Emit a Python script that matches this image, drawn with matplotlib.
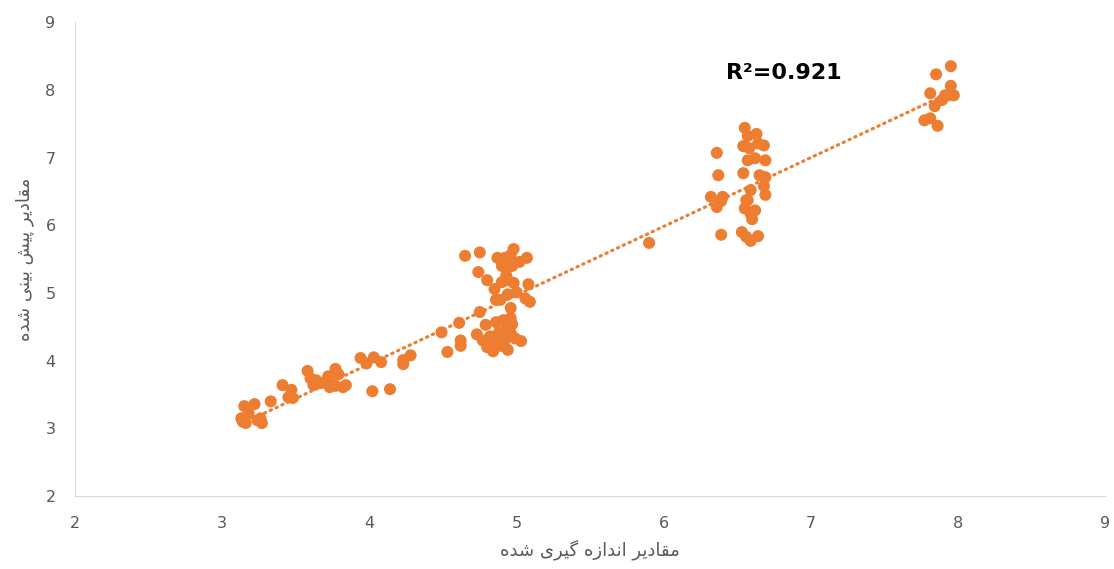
import numpy as np
import matplotlib.pyplot as plt

# داده‌ها: مقادیر اندازه گیری شده و پیش بینی شده
measured = [3.13, 3.15, 3.16, 3.18, 3.22, 3.24, 3.27, 3.26, 3.33, 3.14,
            3.41, 3.47, 3.48, 3.45,
            3.58, 3.60, 3.62, 3.64, 3.67, 3.72, 3.73, 3.77, 3.79, 3.82, 3.84, 3.77, 3.71,
            3.94, 3.98, 4.03, 4.08, 4.02, 4.14, 4.23, 4.23, 4.28,
            4.49, 4.53, 4.61, 4.62, 4.62, 4.65, 4.75, 4.73, 4.75, 4.74,
            4.87, 4.92, 4.96, 4.98, 4.90, 4.97, 5.02, 5.07, 4.80, 4.85, 4.90, 4.94, 4.98,
            5.00, 4.94, 4.86, 5.08, 5.06, 5.09, 4.89, 4.93, 4.96,
            4.79, 4.86, 4.91, 4.96, 4.97, 4.82, 4.88, 4.92, 4.96, 4.80, 4.84, 4.89, 4.94,
            4.99, 5.03, 4.86, 4.77, 4.92,
            5.90,
            6.36, 6.37, 6.39, 6.40, 6.32, 6.36, 6.39,
            6.55, 6.57, 6.63, 6.54, 6.58, 6.64, 6.68, 6.57, 6.62, 6.69, 6.54, 6.65, 6.69,
            6.68, 6.69, 6.59, 6.57, 6.55, 6.59, 6.62, 6.53, 6.56, 6.59, 6.64, 6.60, 6.56,
            7.85, 7.95, 7.81, 7.95, 7.93, 7.97, 7.89, 7.84, 7.77, 7.81, 7.86, 7.91]
predicted = [3.15, 3.33, 3.08, 3.22, 3.36, 3.12, 3.08, 3.15, 3.40, 3.10,
             3.64, 3.57, 3.45, 3.46,
             3.85, 3.74, 3.64, 3.71, 3.67, 3.77, 3.61, 3.88, 3.80, 3.61, 3.64, 3.63, 3.68,
             4.04, 3.96, 4.05, 3.98, 3.55, 3.58, 4.01, 3.95, 4.08,
             4.42, 4.13, 4.56, 4.30, 4.22, 5.55, 5.60, 4.39, 4.72, 5.31,
             5.52, 5.52, 5.56, 5.65, 5.40, 5.40, 5.46, 5.52, 5.19, 5.06, 5.16, 5.19, 5.15,
             5.01, 4.98, 4.90, 5.13, 4.92, 4.87, 4.90, 5.26, 4.78,
             4.53, 4.57, 4.60, 4.63, 4.54, 4.36, 4.42, 4.44, 4.41, 4.20, 4.14, 4.22, 4.16,
             4.33, 4.29, 4.27, 4.30, 4.30,
             5.74,
             7.07, 6.74, 6.36, 6.42, 6.42, 6.27, 5.86,
             7.44, 7.32, 7.35, 7.17, 7.14, 7.21, 7.18, 6.96, 6.99, 6.96, 6.77, 6.74, 6.71,
             6.58, 6.45, 6.52, 6.37, 6.25, 6.17, 6.22, 5.90, 5.83, 5.77, 5.84, 6.09, 6.37,
             8.23, 8.35, 7.95, 8.06, 7.92, 7.92, 7.85, 7.76, 7.55, 7.58, 7.47, 7.92]
r2_label = 'R²=0.921'
x_title = 'مقادیر اندازه گیری شده'
y_title = 'مقادیر پیش بینی شده'

# شکل‌دهی ساده حروف فارسی (matplotlib حروف را به هم نمی‌چسباند)
FORMS = {
    'ا': ('\uFE8D', '\uFE8E', None, None),
    'د': ('\uFEA9', '\uFEAA', None, None),
    'ر': ('\uFEAD', '\uFEAE', None, None),
    'ز': ('\uFEAF', '\uFEB0', None, None),
    'ب': ('\uFE8F', '\uFE90', '\uFE91', '\uFE92'),
    'پ': ('\uFB56', '\uFB57', '\uFB58', '\uFB59'),
    'ش': ('\uFEB5', '\uFEB6', '\uFEB7', '\uFEB8'),
    'ق': ('\uFED5', '\uFED6', '\uFED7', '\uFED8'),
    'م': ('\uFEE1', '\uFEE2', '\uFEE3', '\uFEE4'),
    'ن': ('\uFEE5', '\uFEE6', '\uFEE7', '\uFEE8'),
    'ه': ('\uFEE9', '\uFEEA', '\uFEEB', '\uFEEC'),
    'ی': ('\uFBFC', '\uFBFD', '\uFBFE', '\uFBFF'),
    'گ': ('\uFB92', '\uFB93', '\uFB94', '\uFB95'),
}


def shape_fa(text):
    out = []
    for i, ch in enumerate(text):
        if ch not in FORMS:
            out.append(ch)
            continue
        prev = text[i - 1] if i > 0 else ''
        nxt = text[i + 1] if i + 1 < len(text) else ''
        join_prev = prev in FORMS and FORMS[prev][2] is not None
        join_next = nxt in FORMS and FORMS[ch][2] is not None
        iso, fin, ini, med = FORMS[ch]
        if join_prev and join_next:
            out.append(med)
        elif join_prev:
            out.append(fin)
        elif join_next:
            out.append(ini)
        else:
            out.append(iso)
    return ''.join(reversed(out))


orange = '#ED7D31'
grey = '#595959'

fig = plt.figure(figsize=(11.14, 5.69), dpi=100)
ax = fig.add_axes([0.0673, 0.128, 0.925, 0.833])

x = np.array(measured)
y = np.array(predicted)
ax.scatter(x, y, s=75, color=orange, edgecolors='none', zorder=2)

# خط روند خطی
k, b = np.polyfit(x, y, 1)
xs = np.array([x.min(), x.max()])
ax.plot(xs, k * xs + b, color=orange, lw=2.3, linestyle=(0, (0.4, 1.6)),
        dash_capstyle='round', zorder=3)

ax.text(6.42, 8.25, r2_label, fontsize=16, fontweight='bold', color='black',
        ha='left', va='center', family='DejaVu Sans')

ax.set_xlim(2, 9)
ax.set_ylim(2, 9)
ax.set_xticks(range(2, 10))
ax.set_yticks(range(2, 10))
ax.tick_params(length=0, labelsize=11.5, labelcolor=grey, pad=14)
for side in ['top', 'right']:
    ax.spines[side].set_visible(False)
for side in ['left', 'bottom']:
    ax.spines[side].set_color('#D9D9D9')

ax.set_xlabel(shape_fa(x_title), fontsize=13, color=grey, family='DejaVu Sans', labelpad=6)
ax.set_ylabel(shape_fa(y_title), fontsize=13, color=grey, family='DejaVu Sans', labelpad=8)

fig.savefig('out.png', dpi=100)
